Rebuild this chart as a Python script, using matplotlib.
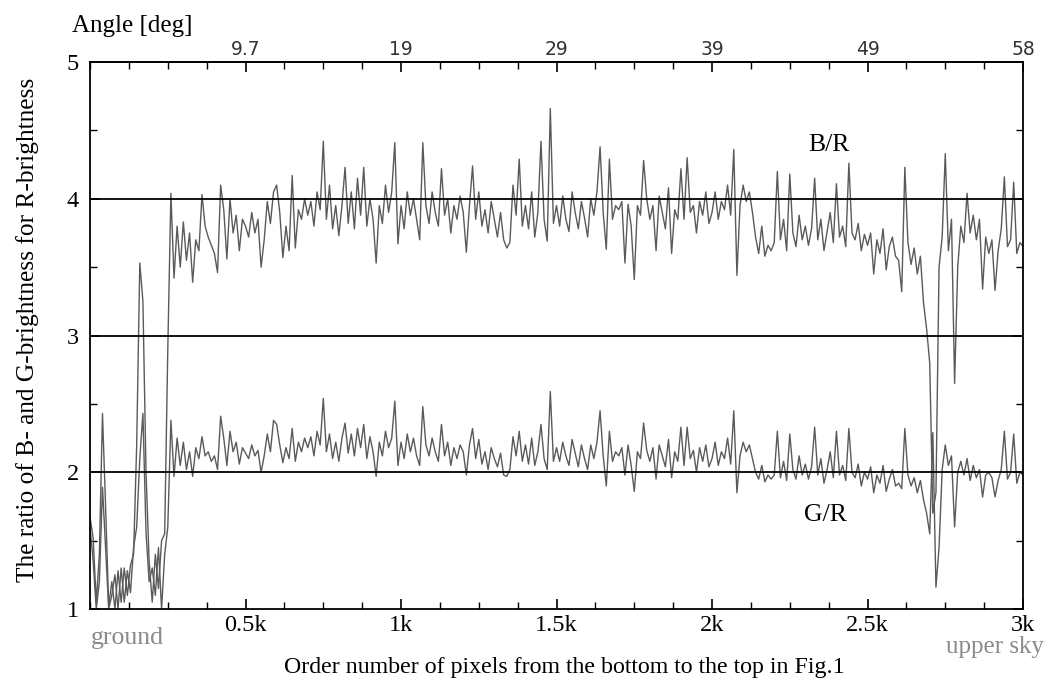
import numpy as np
import matplotlib
matplotlib.use("Agg")
import matplotlib.pyplot as plt
from matplotlib.ticker import MultipleLocator, FixedLocator

# pixel order (every 10th pixel, 0 .. 3000)
pixel_step = 10

# B/R brightness ratio, one row per 100 pixels
br_ratio = [
    1.67, 1.52, 1.05, 1.40, 2.43, 1.75, 1.02, 1.20, 1.00, 1.28,
    1.05, 1.30, 1.10, 1.32, 1.40, 2.20, 3.53, 3.25, 2.00, 1.35,
    1.05, 1.40, 1.15, 1.50, 1.55, 2.90, 4.04, 3.42, 3.80, 3.50,
    3.83, 3.55, 3.75, 3.39, 3.70, 3.62, 4.03, 3.80, 3.72, 3.66,
    3.60, 3.46, 4.10, 3.92, 3.56, 4.00, 3.75, 3.88, 3.62, 3.85,
    3.80, 3.72, 3.90, 3.75, 3.85, 3.50, 3.70, 3.98, 3.82, 4.05,
    4.10, 3.90, 3.57, 3.80, 3.62, 4.17, 3.64, 3.92, 3.85, 4.00,
    3.88, 3.98, 3.80, 4.05, 3.92, 4.42, 3.85, 4.10, 3.78, 3.95,
    3.73, 3.95, 4.23, 3.82, 4.05, 3.78, 4.15, 3.88, 4.23, 3.80,
    4.00, 3.85, 3.53, 3.95, 3.82, 4.10, 3.90, 4.05, 4.41, 3.67,
    3.95, 3.78, 4.05, 3.88, 4.00, 3.85, 3.70, 4.41, 3.95, 3.82,
    4.05, 3.90, 3.80, 4.22, 3.88, 4.00, 3.75, 3.95, 3.85, 4.02,
    3.90, 3.61, 3.95, 4.24, 3.85, 4.05, 3.80, 3.92, 3.75, 3.98,
    3.85, 3.72, 3.90, 3.70, 3.64, 3.68, 4.10, 3.88, 4.29, 3.80,
    3.95, 3.78, 4.05, 3.72, 3.90, 4.42, 3.85, 3.69, 4.66, 3.82,
    3.95, 3.80, 4.02, 3.85, 3.76, 4.05, 3.90, 3.78, 3.98, 3.86,
    3.72, 4.00, 3.88, 4.05, 4.38, 3.90, 3.63, 4.29, 3.85, 3.95,
    3.92, 3.98, 3.53, 3.96, 3.80, 3.41, 3.95, 3.88, 4.28, 4.00,
    3.85, 3.95, 3.62, 4.02, 3.90, 3.78, 4.08, 3.60, 3.92, 3.85,
    4.22, 3.85, 4.30, 3.90, 3.95, 3.75, 3.98, 3.88, 4.05, 3.82,
    3.90, 4.05, 3.85, 3.98, 3.92, 4.10, 3.88, 4.36, 3.44, 3.95,
    4.10, 3.98, 4.05, 3.90, 3.72, 3.60, 3.80, 3.58, 3.66, 3.62,
    3.68, 4.20, 3.70, 3.85, 3.62, 4.18, 3.75, 3.65, 3.88, 3.70,
    3.80, 3.66, 3.78, 4.15, 3.70, 3.85, 3.62, 3.76, 3.90, 3.68,
    4.11, 3.72, 3.80, 3.65, 4.26, 3.75, 3.70, 3.82, 3.62, 3.74,
    3.66, 3.75, 3.45, 3.70, 3.60, 3.78, 3.48, 3.65, 3.72, 3.58,
    3.55, 3.32, 4.23, 3.68, 3.52, 3.64, 3.45, 3.58, 3.24, 3.05,
    2.80, 1.70, 1.85, 3.50, 3.72, 4.33, 3.62, 3.85, 2.65, 3.50,
    3.80, 3.68, 4.04, 3.75, 3.88, 3.70, 3.85, 3.34, 3.72, 3.60,
    3.70, 3.33, 3.62, 3.78, 4.16, 3.65, 3.70, 4.12, 3.60, 3.68,
    3.65,
]

# G/R brightness ratio, same pixels
gr_ratio = [
    1.60, 1.35, 1.00, 1.20, 1.89, 1.45, 1.00, 1.10, 1.25, 1.00,
    1.30, 1.05, 1.28, 1.12, 1.45, 1.60, 2.10, 2.43, 1.56, 1.20,
    1.30, 1.10, 1.45, 1.00, 1.40, 1.60, 2.38, 1.97, 2.25, 2.05,
    2.22, 2.02, 2.15, 1.97, 2.18, 2.10, 2.26, 2.12, 2.15, 2.08,
    2.12, 2.02, 2.41, 2.25, 2.05, 2.30, 2.15, 2.22, 2.06, 2.18,
    2.14, 2.10, 2.20, 2.12, 2.16, 2.00, 2.12, 2.28, 2.15, 2.38,
    2.35, 2.20, 2.07, 2.18, 2.10, 2.32, 2.08, 2.22, 2.15, 2.25,
    2.18, 2.26, 2.12, 2.30, 2.20, 2.54, 2.15, 2.28, 2.10, 2.22,
    2.08, 2.25, 2.36, 2.14, 2.28, 2.12, 2.32, 2.18, 2.35, 2.10,
    2.26, 2.15, 1.97, 2.22, 2.12, 2.30, 2.18, 2.25, 2.52, 2.05,
    2.22, 2.10, 2.28, 2.15, 2.25, 2.12, 2.05, 2.48, 2.20, 2.12,
    2.25, 2.15, 2.08, 2.35, 2.12, 2.22, 2.05, 2.18, 2.10, 2.20,
    2.15, 1.98, 2.20, 2.32, 2.10, 2.24, 2.06, 2.15, 2.02, 2.18,
    2.10, 2.04, 2.14, 1.98, 1.97, 2.02, 2.26, 2.12, 2.30, 2.08,
    2.20, 2.06, 2.25, 2.05, 2.15, 2.35, 2.10, 2.02, 2.59, 2.08,
    2.18, 2.08, 2.22, 2.12, 2.05, 2.24, 2.14, 2.04, 2.20, 2.10,
    2.02, 2.20, 2.10, 2.22, 2.45, 2.12, 1.90, 2.30, 2.08, 2.15,
    2.12, 2.18, 1.98, 2.20, 2.05, 1.86, 2.15, 2.10, 2.36, 2.16,
    2.08, 2.18, 1.95, 2.20, 2.12, 2.04, 2.24, 1.96, 2.15, 2.08,
    2.33, 2.05, 2.33, 2.10, 2.16, 2.00, 2.18, 2.08, 2.20, 2.04,
    2.10, 2.22, 2.05, 2.15, 2.10, 2.25, 2.06, 2.45, 1.85, 2.12,
    2.22, 2.15, 2.20, 2.10, 2.00, 1.95, 2.05, 1.93, 1.98, 1.95,
    1.98, 2.30, 1.96, 2.08, 1.94, 2.28, 2.02, 1.95, 2.12, 1.98,
    2.06, 1.95, 2.04, 2.33, 1.98, 2.10, 1.92, 2.02, 2.15, 1.96,
    2.30, 1.98, 2.05, 1.94, 2.32, 2.00, 1.96, 2.06, 1.90, 2.00,
    1.95, 2.04, 1.85, 1.98, 1.92, 2.05, 1.86, 1.95, 2.02, 1.90,
    1.92, 1.88, 2.32, 1.98, 1.90, 1.96, 1.85, 1.94, 1.80, 1.70,
    1.55, 2.29, 1.16, 1.45, 2.02, 2.20, 2.05, 2.12, 1.60, 2.00,
    2.08, 1.98, 2.10, 1.94, 2.05, 1.96, 2.02, 1.82, 1.98, 2.00,
    1.96, 1.82, 1.94, 2.02, 2.30, 1.95, 2.00, 2.28, 1.92, 2.00,
    1.98,
]

x_ticks = [500, 1000, 1500, 2000, 2500, 3000]
x_tick_labels = ["0.5k", "1k", "1.5k", "2k", "2.5k", "3k"]
angle_labels = ["9.7", "19", "29", "39", "49", "58"]
ref_lines = [2, 3, 4]

SERIF = "Liberation Serif"


def main():
    pixels = np.arange(len(br_ratio)) * pixel_step

    fig = plt.figure(figsize=(10.47, 6.86), dpi=100)
    ax = fig.add_axes([0.0860, 0.1122, 0.8911, 0.7974])

    line_col = "#5a5a5a"
    ax.plot(pixels, br_ratio, color=line_col, lw=1.0, zorder=2)
    ax.plot(pixels, gr_ratio, color=line_col, lw=1.0, zorder=2)

    for y in ref_lines:
        ax.axhline(y, color="black", lw=1.3, zorder=3)

    ax.set_xlim(0, 3000)
    ax.set_ylim(1, 5)

    # bottom / left / right ticks, all pointing inward
    ax.xaxis.set_major_locator(FixedLocator(x_ticks))
    ax.set_xticklabels(x_tick_labels, fontfamily=SERIF, fontsize=17.5)
    ax.xaxis.set_minor_locator(MultipleLocator(125))
    ax.yaxis.set_major_locator(MultipleLocator(1))
    ax.yaxis.set_minor_locator(MultipleLocator(0.5))
    for lab in ax.get_yticklabels():
        lab.set_fontfamily(SERIF)
        lab.set_fontsize(17.5)
    ax.tick_params(which="major", direction="in", length=7, width=1.2,
                   pad=4, right=True)
    ax.tick_params(which="minor", direction="in", length=5, width=1.0,
                   right=True)
    ax.tick_params(axis="y", pad=8)

    # top axis: viewing angle
    top = ax.secondary_xaxis("top")
    top.xaxis.set_major_locator(FixedLocator(x_ticks))
    top.set_xticklabels(angle_labels, fontfamily="DejaVu Sans", fontsize=13.5,
                        color="#333333")
    top.xaxis.set_minor_locator(MultipleLocator(125))
    top.tick_params(which="major", direction="in", length=7, width=1.2, pad=2)
    top.tick_params(which="minor", direction="in", length=5, width=1.0)

    for sp in ax.spines.values():
        sp.set_linewidth(1.3)
    top.spines["top"].set_linewidth(1.3)

    ax.set_xlabel("Order number of pixels from the bottom to the top in Fig.1",
                  fontfamily=SERIF, fontsize=17.2, va="center")
    ax.xaxis.set_label_coords(0.508, -0.106)
    ax.set_ylabel("The ratio of B- and G-brightness for R-brightness",
                  fontfamily=SERIF, fontsize=18.3, va="center")
    ax.yaxis.set_label_coords(-0.067, 0.51)

    fig.text(72 / 1047, 1 - 26 / 686, "Angle [deg]", fontfamily=SERIF,
             fontsize=18, ha="left", va="center")

    ax.text(2376, 4.39, "B/R", fontfamily=SERIF, fontsize=18.5,
            ha="center", va="center")
    ax.text(2366, 1.69, "G/R", fontfamily=SERIF, fontsize=18.5,
            ha="center", va="center")

    fig.text(91 / 1047, 1 - 638 / 686, "ground", fontfamily=SERIF,
             fontsize=18.5, color="#8a8a8a", ha="left", va="center")
    fig.text(1044 / 1047, 1 - 647 / 686, "upper sky", fontfamily=SERIF,
             fontsize=18, color="#8a8a8a", ha="right", va="center")

    fig.savefig("out.png", dpi=100)
    plt.close(fig)


if __name__ == "__main__":
    main()
